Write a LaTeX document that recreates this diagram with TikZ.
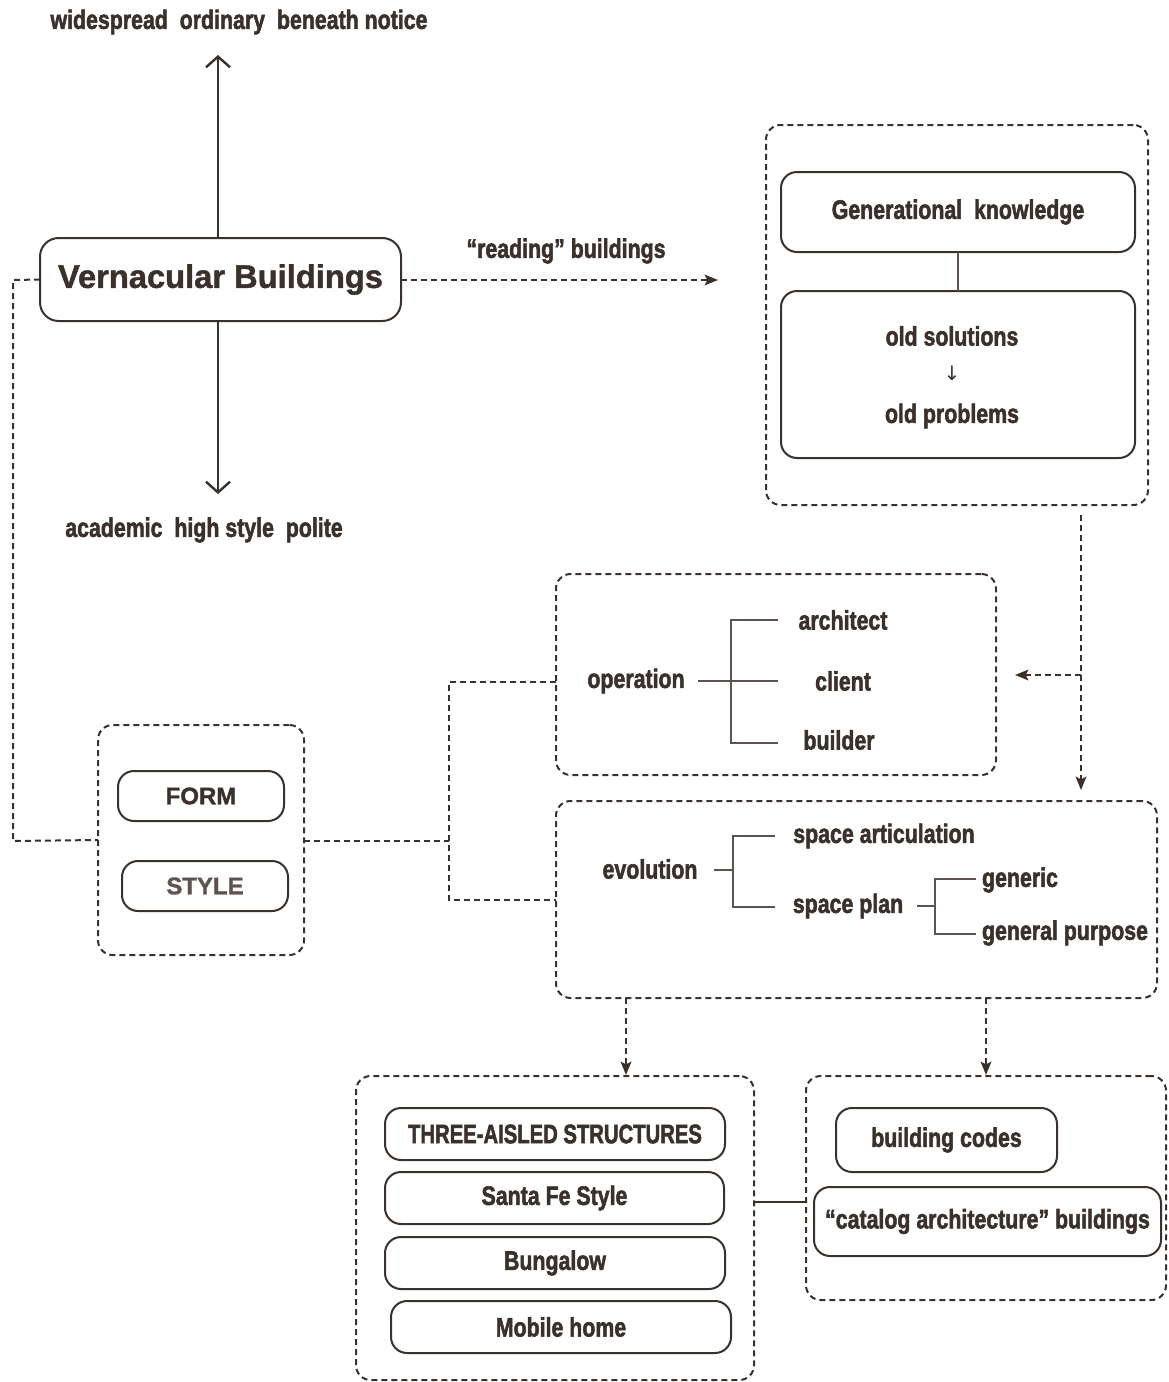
\documentclass[tikz,border=0pt]{standalone}
\usepackage{fontspec}
\setmainfont{Liberation Sans}
\newfontfamily\heavyfont[FakeBold=2.2]{Liberation Sans Bold}
\newfontfamily\widefont[FakeBold=1.3]{Liberation Sans Bold}
\newfontfamily\symfont{DejaVu Sans}
\usetikzlibrary{arrows.meta}
\definecolor{ink}{HTML}{3A302C}
\definecolor{inklight}{HTML}{5E5350}
\newcommand{\cn}[1]{\scalebox{0.8}[1]{#1}}
\newcommand{\pbox}[7]{\node[#6, minimum width={(#4-#2)*0.75pt}, minimum height={(#5-#3)*0.75pt}] (#1) at ({(#2+#4)/2},{(#3+#5)/2}) {#7};}
\tikzset{
  lbl/.style={font=\heavyfont\fontsize{20}{22}\selectfont, text=ink, inner sep=0pt},
  ibox/.style={draw=ink, line width=1.5pt, rounded corners=12pt, inner sep=0pt, outer sep=0pt, lbl},
  obox/.style={draw=ink, line width=1.5pt, dash pattern=on 4.5pt off 3pt, rounded corners=11pt, inner sep=0pt, outer sep=0pt},
  dline/.style={draw=ink, line width=1.5pt, dash pattern=on 4.5pt off 3pt},
  sline/.style={draw=ink, line width=1.4pt},
  bline/.style={draw=inklight, line width=0.9pt},
  opentip/.style={-{Straight Barb[length=8pt,width=18pt,line width=1.8pt]}},
  filltip/.style={-{Stealth[length=10pt,width=8pt,inset=2pt]}},
}
\begin{document}
\begin{tikzpicture}[x=0.75pt, y=-0.75pt]
\useasboundingbox[fill=white] (0,0) rectangle (1169,1382);

% ---------- top-left group ----------
\pbox{vb}{40}{238}{401}{321}{ibox, rounded corners=14pt, font=\widefont\fontsize{24.5}{28}\selectfont}{Vernacular Buildings}
\node[lbl] (top) at (239,22) {\cn{widespread\ \ ordinary\ \ beneath notice}};
\node[lbl] (bot) at (204,530) {\cn{academic\ \ high style\ \ polite}};
\coordinate (topc) at (218,55);
\coordinate (botc) at (218,494);
\draw[sline, opentip] (vb.north -| topc) -- (topc);
\draw[sline, opentip] (vb.south -| botc) -- (botc);

% reading buildings arrow
\coordinate (rdc) at (718,280);
\node[lbl] (rd) at (566,251) {\cn{“reading” buildings}};
\draw[dline, filltip] (vb.east |- rdc) -- (rdc);

% ---------- knowledge group ----------
\pbox{kg}{766}{125}{1148}{505}{obox}{}
\pbox{gk}{781}{172}{1135}{252}{ibox}{\cn{Generational\ \ knowledge}}
\pbox{os}{781}{291}{1135}{458}{ibox}{}
\node[lbl] (osol) at (952,336) {\cn{old solutions}};
\node[font=\symfont\fontsize{15}{16}\selectfont, text=ink, inner sep=0pt] (darr) at (952,373) {↓};
\node[lbl] (oprob) at (952,416) {\cn{old problems}};
\draw[bline] (gk.south -| os.north) -- (os.north);

% ---------- operation ----------
\pbox{ope}{556}{574}{996}{775}{obox}{}
\node[lbl] (op) at (636,681) {\cn{operation}};
\node[lbl] (arch) at (843,620) {\cn{architect}};
\node[lbl] (cli) at (843,681) {\cn{client}};
\node[lbl] (bld) at (839,740) {\cn{builder}};
\coordinate (oa) at (731,620);
\coordinate (ob) at (731,743);
\draw[bline] (698,681) -- (778,681);
\draw[bline] (778,620) -- (oa) -- (ob) -- (778,743);

% ---------- evolution ----------
\pbox{evo}{556}{801}{1157}{998}{obox}{}
\node[lbl] (ev) at (650,869) {\cn{evolution}};
\node[lbl] (sa) at (884,836) {\cn{space articulation}};
\node[lbl] (sp) at (848,906) {\cn{space plan}};
\node[lbl] (gen) at (1020,880) {\cn{generic}};
\node[lbl] (gp) at (1065,933) {\cn{general purpose}};
\draw[bline] (714,870) -- (733,870);
\draw[bline] (775,836) -- (733,836) -- (733,907) -- (775,907);
\draw[bline] (917,906) -- (935,906);
\draw[bline] (976,879) -- (935,879) -- (935,934) -- (976,934);

% arrows from knowledge group
\coordinate (d1) at (1081,515);
\coordinate (d2) at (1081,790);
\coordinate (d3) at (1081,675);
\coordinate (d4) at (1015,675);
\draw[dline, filltip] (d1) -- (d2);
\draw[dline, filltip] (d3) -- (d4);

% ---------- form / style ----------
\pbox{fs}{98}{725}{304}{955}{obox}{}
\pbox{form}{118}{771}{284}{821}{ibox, font=\widefont\fontsize{18}{20}\selectfont}{FORM}
\pbox{sty}{122}{861}{288}{911}{ibox, font=\widefont\fontsize{18}{20}\selectfont, text=inklight}{STYLE}

% left dashed loop from Vernacular Buildings to form/style
\draw[dline] (vb.west) -- (13,280) -- (13,841) -- (fs.west);

% form/style to operation and evolution
\coordinate (j0) at (449,841);
\coordinate (j1) at (449,682);
\coordinate (j2) at (449,900);
\draw[dline] (fs.east |- j0) -- (j0);
\draw[dline] (ope.west |- j1) -- (j1) -- (j2) -- (evo.west |- j2);

% ---------- bottom groups ----------
\pbox{lb}{356}{1076}{754}{1380}{obox}{}
\pbox{tas}{385}{1108}{725}{1160}{ibox}{\scalebox{0.76}[1]{THREE-AISLED STRUCTURES}}
\pbox{sfs}{385}{1172}{724}{1224}{ibox}{\cn{Santa Fe Style}}
\pbox{bun}{385}{1237}{725}{1289}{ibox}{\cn{Bungalow}}
\pbox{mob}{391}{1301}{731}{1353}{ibox}{\cn{Mobile home}}

\pbox{rb}{806}{1076}{1166}{1300}{obox}{}
\pbox{bc}{836}{1108}{1057}{1172}{ibox}{\cn{building codes}}
\pbox{cat}{814}{1187}{1161}{1256}{ibox}{\cn{“catalog architecture” buildings}}

\coordinate (e1) at (626,1075);
\coordinate (e2) at (986,1075);
\draw[dline, filltip] (evo.south -| e1) -- (e1);
\draw[dline, filltip] (evo.south -| e2) -- (e2);

\coordinate (s0) at (780,1202);
\draw[sline] (lb.east |- s0) -- (rb.west |- s0);
\end{tikzpicture}
\end{document}
